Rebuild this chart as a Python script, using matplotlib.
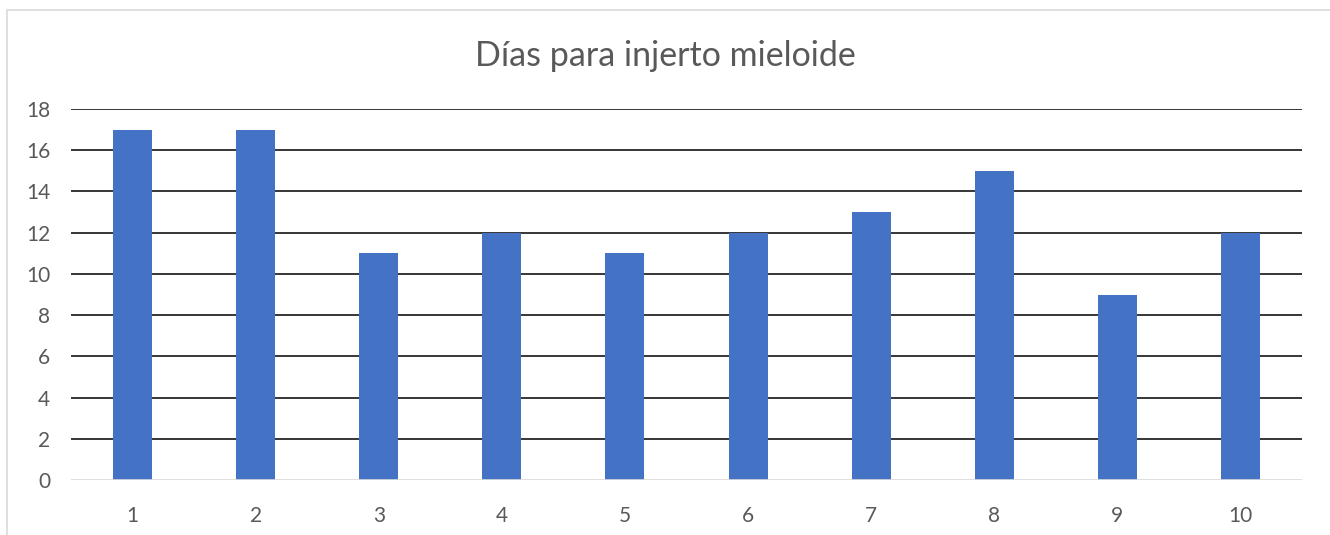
import matplotlib
matplotlib.use("Agg")
import matplotlib.pyplot as plt
from matplotlib.patches import Rectangle

categories = ["1", "2", "3", "4", "5", "6", "7", "8", "9", "10"]
values = [17, 17, 11, 12, 11, 12, 13, 15, 9, 12]
yticks = [0, 2, 4, 6, 8, 10, 12, 14, 16, 18]
title = "Días para injerto mieloide"

plt.rcParams['font.family'] = ['Lato', 'DejaVu Sans']

fig = plt.figure(figsize=(13.3, 5.35), dpi=100)
fig.patch.set_facecolor("white")
# outer chart border (Excel style)
fig.add_artist(Rectangle((7/1330, -0.05), 1.2, 1 - 10/535 + 0.05,
                         transform=fig.transFigure, fill=False,
                         edgecolor="#d9d9d9", linewidth=1.2))

ax = fig.add_axes([71/1330, 1 - 480/535, (1302 - 71)/1330, (480 - 109)/535])
x = list(range(1, len(categories) + 1))
ax.bar(x, values, width=0.317, color="#4472C4", zorder=3)

ax.set_xlim(0.5, len(categories) + 0.5)
ax.set_ylim(0, 18)
ax.set_yticks(yticks)
ax.set_yticklabels([str(t) for t in yticks])
ax.set_xticks(x)
ax.set_xticklabels(categories)

for t in yticks[1:]:
    ax.axhline(t, color="black", linewidth=1.1, zorder=1)
ax.axhline(0, color="#d9d9d9", linewidth=1.2, zorder=4)

for s in ax.spines.values():
    s.set_visible(False)
ax.tick_params(axis="both", length=0, labelsize=15, labelcolor="#595959")
ax.tick_params(axis="y", pad=15)
ax.tick_params(axis="x", pad=19)

fig.text(0.5, 1 - 56/535, title, ha="center", va="center",
         fontsize=24.5, color="#595959")

fig.savefig("out.png", dpi=100)
